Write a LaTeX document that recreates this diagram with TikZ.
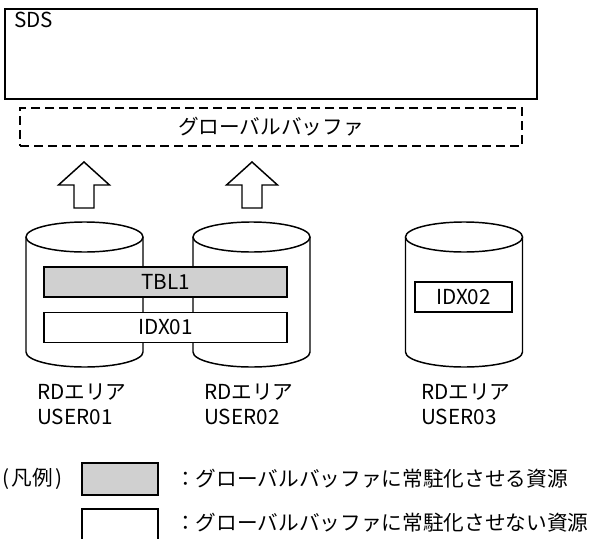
\documentclass[tikz,border=0pt]{standalone}
\usepackage{fontspec}
\setmainfont{Noto Sans CJK JP}
\definecolor{barfill}{HTML}{D0D0D0}
\begin{document}
\begin{tikzpicture}[x=0.75pt,y=-0.75pt]
\tikzset{
  outline/.style={draw=black, line width=1.1pt},
  txt/.style={inner sep=0pt, font=\fontsize{15.5}{18}\selectfont},
  bar/.style={outline, txt, minimum width=182.25pt, minimum height=22.5pt},
  legbox/.style={outline, minimum width=57pt, minimum height=24pt, inner sep=0pt},
  dbcyl/.pic={
    \draw[outline, fill=white] (-58.5,0) -- (-58.5,115)
      arc[start angle=180, end angle=360, x radius=43.875pt, y radius=11.25pt] -- (58.5,0);
    \draw[outline, fill=white] (0,0) ellipse[x radius=43.875pt, y radius=11.25pt];
  },
  uparrow/.pic={
    \draw[outline, fill=white, line join=miter] (0,0) -- (25.5,23) -- (10,23) -- (10,46)
      -- (-10,46) -- (-10,23) -- (-25.5,23) -- cycle;
  }
}
\useasboundingbox (0,0) rectangle (598,538);
\clip (0,0) rectangle (598,538);

% SDS
\node[outline, minimum width=399pt, minimum height=67.5pt, inner sep=0pt] (sdsbox) at (271,54) {};
\node[txt, anchor=west] (sds) at (14,20) {SDS};

% global buffer
\node[outline, dash pattern=on 6.75pt off 3.75pt, minimum width=376.5pt, minimum height=28.5pt, txt] (gbuf) at (271,127) {グローバルバッファ};

% block arrows
\pic at (84,162) {uparrow};
\pic at (252,162) {uparrow};

% cylinders
\pic at (84.5,237) {dbcyl};
\pic at (251.5,237) {dbcyl};
\pic at (464,237) {dbcyl};

% resources
\node[bar, fill=barfill] (tbl) at (165.5,282) {TBL1};
\node[bar, fill=white] (idx1) at (165.5,327.5) {IDX01};
\node[outline, fill=white, txt, minimum width=72.75pt, minimum height=22.5pt] (idx2) at (463.5,297) {IDX02};

% area labels
\node[txt, anchor=west] (l1a) at (37,392) {RDエリア};
\node[txt, anchor=west] (l1b) at (37,417) {USER01};
\node[txt, anchor=west] (l2a) at (204,392) {RDエリア};
\node[txt, anchor=west] (l2b) at (204,417) {USER02};
\node[txt, anchor=west] (l3a) at (421,392) {RDエリア};
\node[txt, anchor=west] (l3b) at (421,417) {USER03};

% legend
\node[txt, anchor=west] (leg) at (2,479) {(\kern0.12em 凡例\kern0.12em )};
\node[legbox, fill=barfill] (lg1) at (120,479) {};
\node[legbox, fill=white] (lg2) at (120,525) {};
\node[txt, anchor=west] (lt1) at (175,479) {：グローバルバッファに常駐化させる資源};
\node[txt, anchor=west] (lt2) at (175,523) {：グローバルバッファに常駐化させない資源};
\end{tikzpicture}
\end{document}
